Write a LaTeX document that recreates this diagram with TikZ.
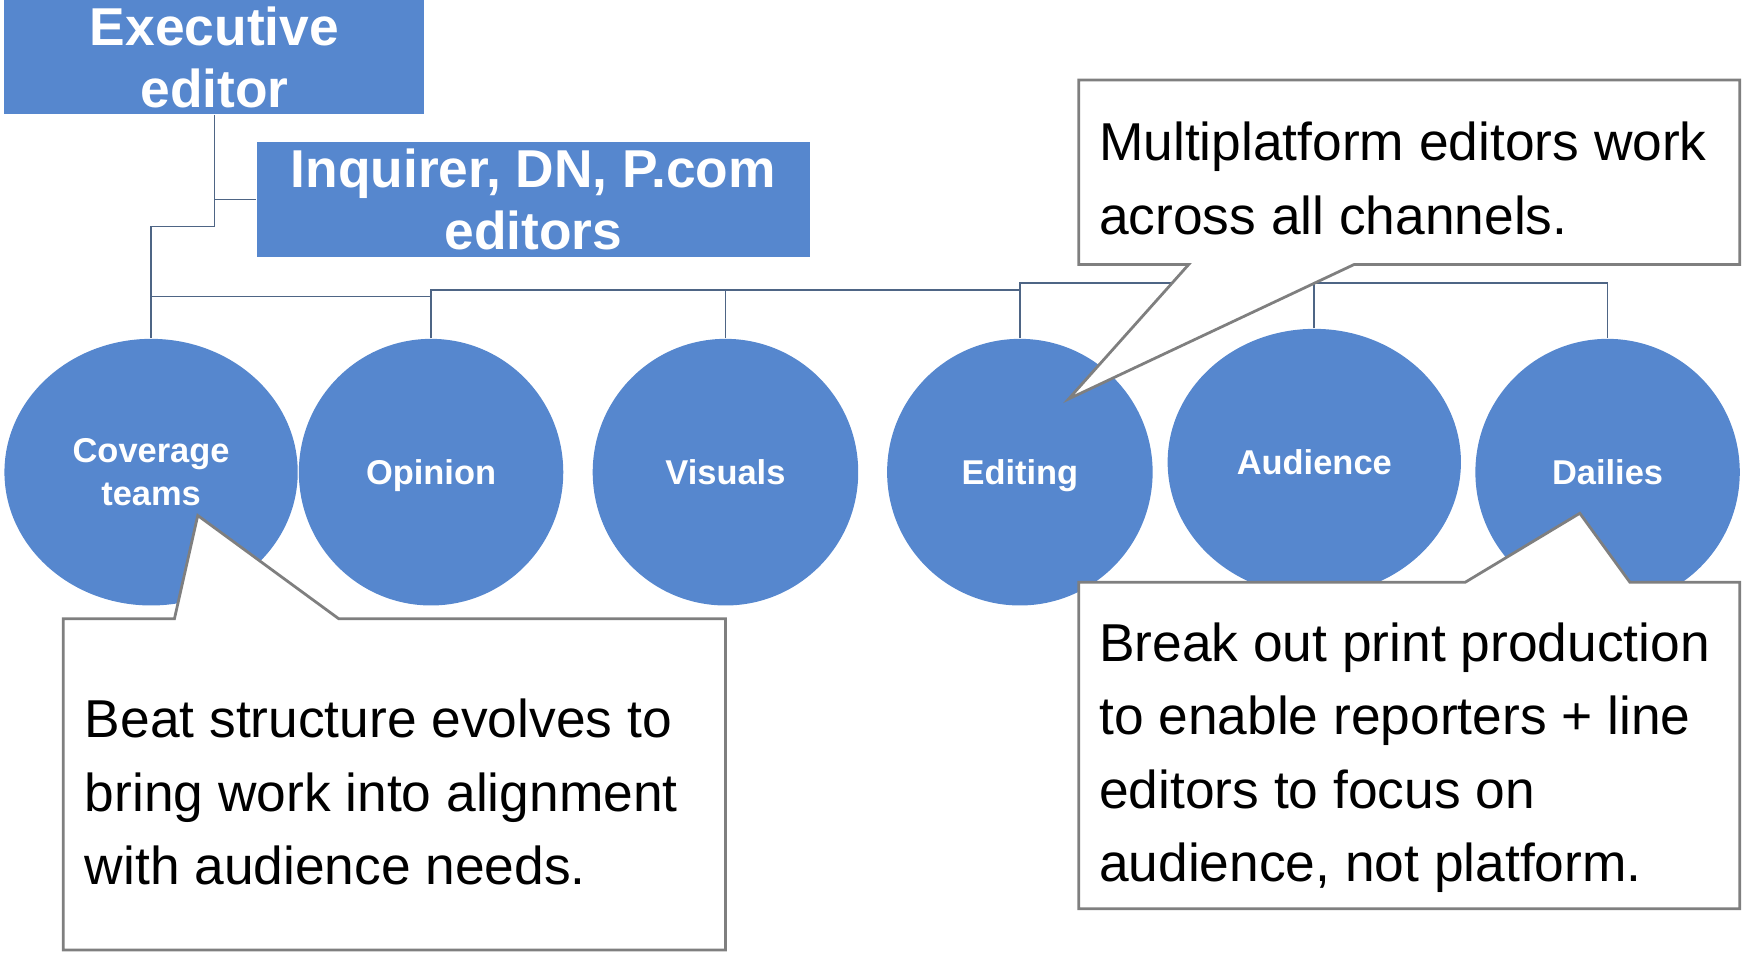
\documentclass[tikz,border=0pt]{standalone}
\usepackage{fontspec}
\setmainfont{Liberation Sans}
\usetikzlibrary{shapes.geometric}
\definecolor{boxblue}{HTML}{5687CE}
\definecolor{linkc}{HTML}{4E6585}
\definecolor{callc}{HTML}{7F7F7F}
\begin{document}
\begin{tikzpicture}[x=0.5pt,y=-0.5pt,
  headbox/.style={fill=boxblue, draw=none, inner sep=0pt, text=white,
    font=\bfseries\fontsize{24}{28}\selectfont, align=center},
  team/.style={ellipse, fill=boxblue, draw=none, inner sep=0pt, text=white,
    font=\bfseries\fontsize{15.5}{19}\selectfont, align=center, minimum height=120pt},
  oneline/.style={text height=11.2pt, text depth=0pt},
  link/.style={draw=linkc, line width=0.75pt},
  callout/.style={draw=callc, line width=1.25pt, fill=white, line join=miter},
  calltext/.style={inner sep=0pt, anchor=west, align=left,
    font=\fontsize{24}{33}\selectfont}]
\useasboundingbox (0,0) rectangle (1568,857);

% header boxes
\node[headbox, minimum width=189pt, minimum height=51.5pt] (exec) at (193,51.5) {Executive\\editor};
\node[headbox, minimum width=249pt, minimum height=51.5pt] (inq) at (480,179.5) {Inquirer, DN, P.com\\editors};

% team ellipses
\node[team, minimum width=132pt] (cov) at (136,425) {Coverage\\teams};
\node[team, oneline, minimum width=119pt] (opi) at (388,425) {Opinion};
\node[team, oneline, minimum width=119.5pt] (vis) at (653,425) {Visuals};
\node[team, oneline, minimum width=119.5pt] (edi) at (918,425) {Editing};
\node[team, oneline, minimum width=132pt] (aud) at (1183,416) {Audience};
\node[team, oneline, minimum width=119pt] (dai) at (1447,425) {Dailies};

% connectors
\draw[link] (exec.south) -- (exec.south |- 0,204) -| (cov.north);
\draw[link] (exec.south |- inq.west) -- (inq.west);
\draw[link] (cov.north |- 0,267) -| (opi.north);
\draw[link] (opi.north) -- (opi.north |- 0,261) -| (edi.north);
\draw[link] (vis.north) -- (vis.north |- 0,261);
\draw[link] (edi.north) -- (edi.north |- 0,255) -| (dai.north);
\draw[link] (aud.north) -- (aud.north |- 0,255);

% callouts
\draw[callout] (971,72) -- (1566,72) -- (1566,238) -- (1219,238) -- (962,359) -- (1070,238) -- (971,238) -- cycle;
\node[calltext] (ctop) at (989,160.5) {Multiplatform editors work\\across all channels.};

\draw[callout] (57,557) -- (157,557) -- (178,464) -- (305,557) -- (653,557) -- (653,855) -- (57,855) -- cycle;
\node[calltext] (cleft) at (76,713) {Beat structure evolves to\\bring work into alignment\\with audience needs.};

\draw[callout] (971,524) -- (1319,524) -- (1422,462) -- (1467,524) -- (1566,524) -- (1566,818) -- (971,818) -- cycle;
\node[calltext] (cright) at (989,682) {Break out print production\\to enable reporters + line\\editors to focus on\\audience, not platform.};
\end{tikzpicture}
\end{document}
